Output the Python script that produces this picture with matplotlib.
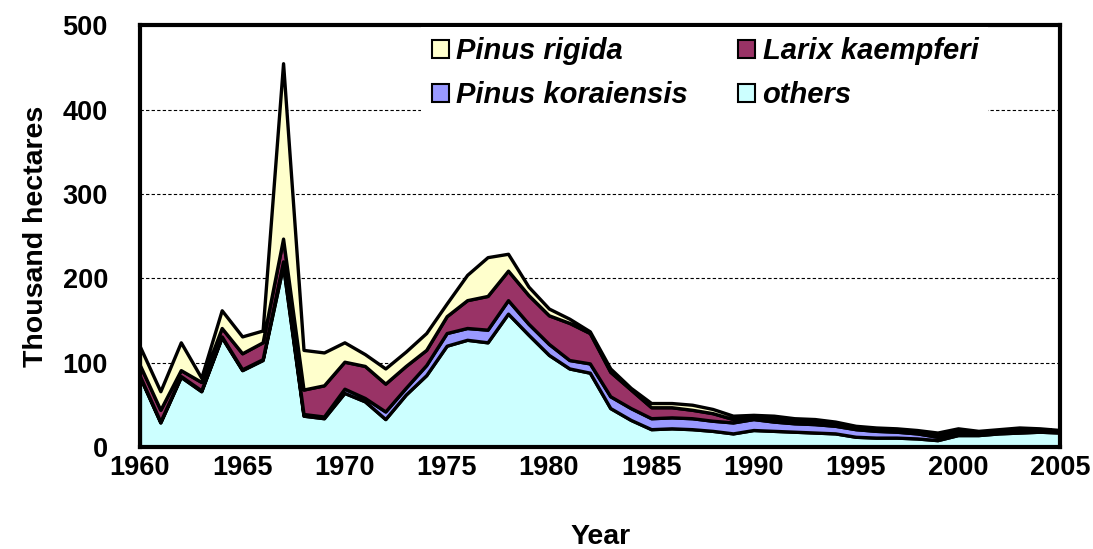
import matplotlib.pyplot as plt
import numpy as np

plt.rcParams['font.family'] = ['Liberation Sans', 'DejaVu Sans']

years = list(range(1960, 2006))

# thousand hectares per species, stacked bottom to top
others = [83, 29, 83, 66, 130, 91, 103, 215, 37, 34,
          64, 54, 33, 62, 85, 120, 127, 124, 158, 133,
          109, 93, 88, 46, 32, 21, 22, 21, 19, 16,
          20, 19, 18, 17, 16, 12, 11, 11, 10, 8,
          14, 14, 16, 17, 18, 17]
pinus_koraiensis = [1, 1, 1, 1, 1, 1, 1, 5, 2, 2,
                    5, 4, 9, 8, 12, 15, 14, 15, 16, 13,
                    13, 10, 11, 14, 14, 13, 13, 13, 12, 13,
                    13, 11, 10, 10, 9, 9, 8, 7, 6, 4,
                    4, 2, 2, 3, 2, 1]
larix_kaempferi = [13, 14, 7, 10, 10, 19, 20, 27, 29, 37,
                   32, 38, 33, 26, 18, 20, 33, 40, 35, 34,
                   34, 44, 36, 29, 22, 13, 12, 10, 9, 4,
                   2, 4, 3, 3, 2, 2, 2, 2, 2, 3,
                   2, 2, 1, 1, 1, 1]
pinus_rigida = [22, 22, 33, 5, 21, 20, 14, 208, 47, 39,
                23, 14, 18, 17, 20, 15, 30, 46, 20, 10,
                8, 5, 2, 4, 2, 5, 5, 6, 5, 4,
                3, 3, 3, 3, 3, 2, 2, 2, 2, 2,
                2, 1, 2, 2, 1, 1]

series = [
    ("others", others, "#CCFFFF"),
    ("Pinus koraiensis", pinus_koraiensis, "#9999FF"),
    ("Larix kaempferi", larix_kaempferi, "#993366"),
    ("Pinus rigida", pinus_rigida, "#FFFFCC"),
]

fig = plt.figure(figsize=(10.93, 5.49), dpi=100)
ax = fig.add_axes([0.128, 0.186, 0.842, 0.768])

x = np.array(years)
base = np.zeros(len(years))
patches = {}
for name, vals, color in series:
    top = base + np.array(vals)
    patches[name] = ax.fill_between(x, base, top, facecolor=color,
                                    edgecolor="black", linewidth=2.4,
                                    label=name, zorder=2)
    base = top

ax.set_xlim(1960, 2005)
ax.set_ylim(0, 500)
ax.set_xticks(range(1960, 2006, 5))
ax.set_xticks(years, minor=True)
ax.set_yticks(range(0, 501, 100))
ax.tick_params(axis="x", which="both", direction="in", length=6, width=1.2,
               labelsize=19.5, pad=6)
ax.tick_params(axis="y", length=0, labelsize=19.5, pad=23)
for lab in ax.get_xticklabels() + ax.get_yticklabels():
    lab.set_fontweight("bold")

ax.yaxis.grid(True, linestyle=(0, (3, 2)), color="black", linewidth=0.8)
ax.set_axisbelow(True)
for sp in ax.spines.values():
    sp.set_linewidth(3)
    sp.set_zorder(5)

ax.set_ylabel("Thousand hectares", fontsize=20.5, fontweight="bold", labelpad=10)
ax.set_xlabel("Year", fontsize=20.5, fontweight="bold", labelpad=31)

order = ["Pinus rigida", "Pinus koraiensis", "Larix kaempferi", "others"]
leg = ax.legend([patches[n] for n in order], order, ncol=2,
                loc="upper left", bbox_to_anchor=(0.29, 1.03),
                prop={"size": 21, "style": "italic", "weight": "bold"},
                handlelength=0.6, handleheight=0.6, handletextpad=0.25,
                columnspacing=1.7, labelspacing=0.55,
                frameon=True, fancybox=False, borderpad=0.35)
leg.get_frame().set_edgecolor("none")
leg.get_frame().set_facecolor("white")
leg.get_frame().set_alpha(1)
for h in leg.legend_handles:
    h.set_linewidth(1.5)

fig.savefig("out.png", dpi=100)
